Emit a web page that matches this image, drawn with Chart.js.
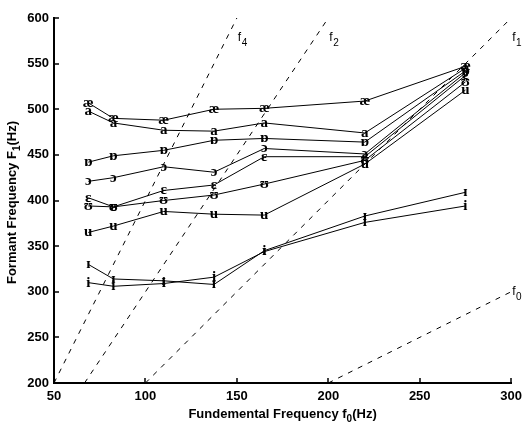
<!DOCTYPE html>
<html>
<head>
<meta charset="utf-8">
<script src="https://cdn.jsdelivr.net/npm/chart.js@4/dist/chart.umd.min.js"></script>
<style>
  html, body { margin: 0; padding: 0; background: #fff; }
  #wrap { width: 528px; height: 423px; }
</style>
</head>
<body>
<div id="wrap"><canvas id="vowelChart" width="528" height="423"></canvas></div>
<script>
// fundamental frequencies (Hz) where F1 was measured
const f0Hz = [68.75, 82.5, 110, 137.5, 165, 220, 275];

// F1 (Hz) per vowel
const aeF1 = [507, 490, 488, 500, 501, 509, 547];
const aF1  = [498, 485, 477, 476, 485, 474, 545];
const ohF1 = [442, 449, 455, 466, 468, 464, 542];   // ɒ
const oF1  = [421, 425, 437, 431, 457, 451, 540];   // ɔ
const ehF1 = [403, 393, 411, 417, 448, 448, 537];   // ɛ
const uhF1 = [394, 393, 400, 406, 418, 444, 530];   // ʊ
const uF1  = [365, 372, 388, 385, 384, 440, 521];
const ihF1 = [330, 314, 312, 308, 345, 383, 409];   // ɪ
const iF1  = [310, 306, 309, 316, 344, 376, 394];

const vowelGlyphs = ['æ', 'a', 'ɒ', 'ɔ', 'ɛ', 'ʊ', 'u', 'ɪ', 'i'];
const vowelSeries = [aeF1, aF1, ohF1, oF1, ehF1, uhF1, uF1, ihF1, iF1];

// harmonic reference lines (dashed), end points
const harmNames = ['0', '1', '2', '4'];
const harmX = [[200, 300], [100, 300], [66.7, 200], [50, 150]];
const harmY = [[200, 300], [200, 600], [200, 600], [200, 600]];

// axis ticks
const xTicks = [50, 100, 150, 200, 250, 300];
const yTicks = [200, 250, 300, 350, 400, 450, 500, 550, 600];

const sansBold = "'Liberation Sans', Arial, Helvetica, sans-serif";
const serif = "'Liberation Serif', 'DejaVu Serif', 'Times New Roman', serif";

var datasets = [];
harmNames.forEach((n, i) => {
  datasets.push({
    label: 'f' + n,
    harm: n,
    data: [{x: harmX[i][0], y: harmY[i][0]}, {x: harmX[i][1], y: harmY[i][1]}],
    borderColor: '#000',
    borderWidth: 1,
    borderDash: [5, 6],
    pointRadius: 0,
    fill: false
  });
});
vowelSeries.forEach((vals, i) => {
  datasets.push({
    label: vowelGlyphs[i],
    glyph: vowelGlyphs[i],
    data: vals.map((v, j) => ({x: f0Hz[j], y: v})),
    borderColor: '#000',
    borderWidth: 1,
    pointRadius: 0,
    fill: false
  });
});

// draws vowel symbols at the data points and f_n labels at the ends of the dashed lines
const glyphPlugin = {
  id: 'glyphs',
  afterDatasetsDraw(chart) {
    const ctx = chart.ctx;
    ctx.save();
    ctx.fillStyle = '#000';
    chart.data.datasets.forEach((ds, i) => {
      const meta = chart.getDatasetMeta(i);
      if (ds.glyph) {
        ctx.font = 'bold 15px ' + serif;
        ctx.textAlign = 'center';
        ctx.textBaseline = 'middle';
        meta.data.forEach(pt => ctx.fillText(ds.glyph, pt.x, pt.y));
      } else if (ds.harm) {
        const end = meta.data[1];
        let lx = end.x + 1, ly = end.y + 20;
        if (ds.harm === '0') { lx = end.x + 1; ly = end.y; }
        ctx.textAlign = 'left';
        ctx.textBaseline = 'middle';
        ctx.font = '12px ' + "'Liberation Sans', Arial, sans-serif";
        ctx.fillText('f', lx, ly);
        const w = ctx.measureText('f').width;
        ctx.font = '10px ' + "'Liberation Sans', Arial, sans-serif";
        ctx.fillText(ds.harm, lx + w + 0.5, ly + 5);
      }
    });
    ctx.restore();
  }
};

// inward tick marks + axis titles with subscripts
const axesPlugin = {
  id: 'axesExtras',
  afterDraw(chart) {
    const ctx = chart.ctx;
    const a = chart.chartArea;
    const xs = chart.scales.x, ys = chart.scales.y;
    ctx.save();
    ctx.strokeStyle = '#000';
    ctx.lineWidth = 1.5;
    xTicks.forEach(t => {
      const px = Math.round(xs.getPixelForValue(t));
      ctx.beginPath(); ctx.moveTo(px, a.bottom); ctx.lineTo(px, a.bottom - 5); ctx.stroke();
    });
    yTicks.forEach(t => {
      const py = Math.round(ys.getPixelForValue(t));
      ctx.beginPath(); ctx.moveTo(a.left, py); ctx.lineTo(a.left + 5, py); ctx.stroke();
    });

    ctx.fillStyle = '#000';
    ctx.textBaseline = 'alphabetic';
    ctx.textAlign = 'left';
    function drawTitle(parts, cx, baseY) {
      let total = 0;
      parts.forEach(p => { ctx.font = p.font; total += ctx.measureText(p.t).width; });
      let x = cx - total / 2;
      parts.forEach(p => {
        ctx.font = p.font;
        ctx.fillText(p.t, x, baseY + p.dy);
        x += ctx.measureText(p.t).width;
      });
    }
    const big = 'bold 13px ' + sansBold, small = 'bold 10px ' + sansBold;
    drawTitle([
      {t: 'Fundemental Frequency f', font: big, dy: 0},
      {t: '0', font: small, dy: 4},
      {t: '(Hz)', font: big, dy: 0}
    ], (a.left + a.right) / 2, 418);

    ctx.translate(16, (a.top + a.bottom) / 2 + 2);
    ctx.rotate(-Math.PI / 2);
    drawTitle([
      {t: 'Formant Frequency F', font: big, dy: 0},
      {t: '1', font: small, dy: 4},
      {t: '(Hz)', font: big, dy: 0}
    ], 0, 0);
    ctx.restore();
  }
};

var ctx = document.getElementById('vowelChart').getContext('2d');
var chart = new Chart(ctx, {
  type: 'line',
  data: { datasets: datasets },
  plugins: [glyphPlugin, axesPlugin],
  options: {
    responsive: false,
    animation: false,
    devicePixelRatio: 1,
    layout: { padding: { left: 0, top: 18, right: 11, bottom: 0 } },
    plugins: {
      legend: { display: false },
      tooltip: { enabled: false },
      title: { display: false }
    },
    scales: {
      x: {
        type: 'linear',
        min: 50, max: 300,
        afterFit: s => { s.height = 40; },
        afterBuildTicks: s => { s.ticks = xTicks.map(v => ({value: v})); },
        grid: { display: false, drawTicks: false },
        border: { display: true, color: '#000', width: 2 },
        ticks: { color: '#000', padding: 6, font: { family: sansBold, size: 13, weight: 'bold' }, maxRotation: 0 }
      },
      y: {
        type: 'linear',
        min: 200, max: 600,
        afterFit: s => { s.width = 54; },
        afterBuildTicks: s => { s.ticks = yTicks.map(v => ({value: v})); },
        grid: { display: false, drawTicks: false },
        border: { display: true, color: '#000', width: 2 },
        ticks: { color: '#000', padding: 5, font: { family: sansBold, size: 13, weight: 'bold' } }
      }
    }
  }
});
</script>
</body>
</html>
